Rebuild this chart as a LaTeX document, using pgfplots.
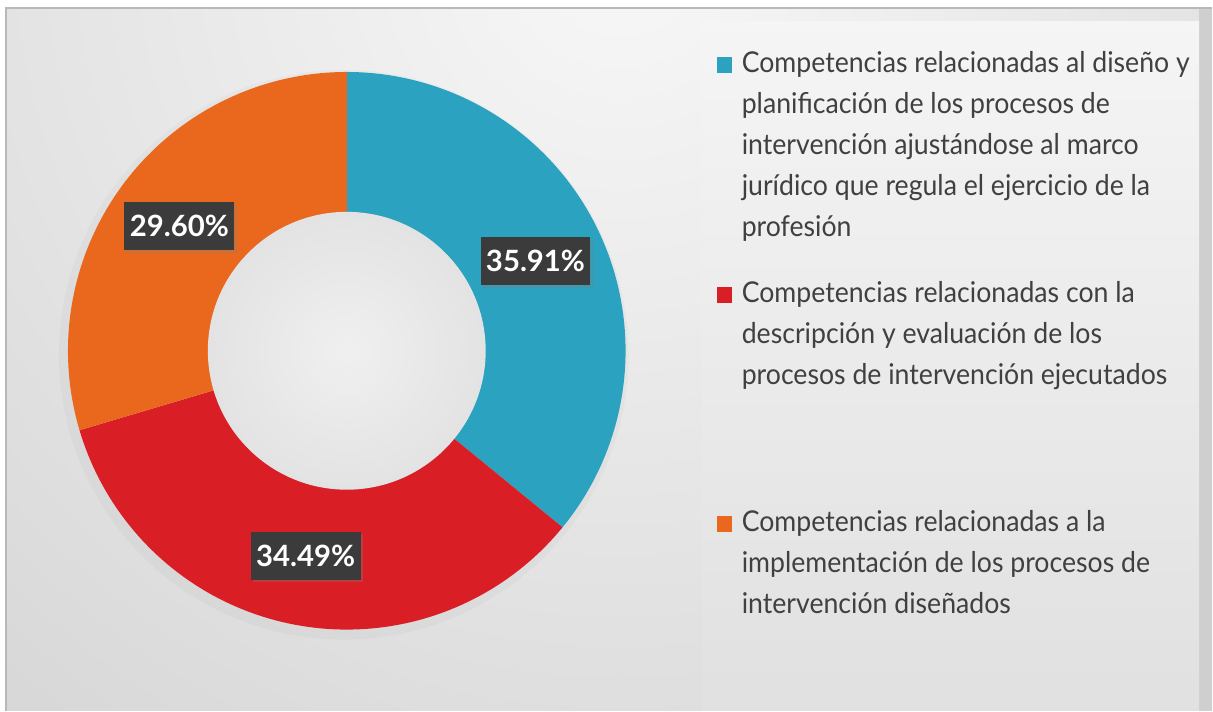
\documentclass[border=0pt]{standalone}
\usepackage{pgfplots}
\pgfplotsset{compat=1.18}
\usepackage{fontspec}
\setmainfont{Lato}
\newfontfamily\legfont{Lato}[FakeStretch=0.93]
\usetikzlibrary{shadows}

\definecolor{cBlue}{HTML}{2AA2C0}
\definecolor{cRed}{HTML}{DA1E26}
\definecolor{cOrange}{HTML}{EA681E}
\definecolor{txt}{HTML}{404040}

% shares in percent
\def\vA{35.91}
\def\vB{34.49}
\def\vC{29.60}

% donut geometry (pixel units, y downwards)
\def\cx{347}\def\cy{351}\def\rout{279}\def\rin{139}\def\rmid{209}

\pgfmathsetmacro\aA{90}
\pgfmathsetmacro\aB{\aA-3.6*\vA}
\pgfmathsetmacro\aC{\aB-3.6*\vB}
\pgfmathsetmacro\aD{\aC-3.6*\vC}
\pgfmathsetmacro\xA{\cx+\rmid*cos((\aA+\aB)/2)}
\pgfmathsetmacro\yA{\cy-\rmid*sin((\aA+\aB)/2)}
\pgfmathsetmacro\xB{\cx+\rmid*cos((\aB+\aC)/2)}
\pgfmathsetmacro\yB{\cy-\rmid*sin((\aB+\aC)/2)}
\pgfmathsetmacro\xC{\cx+\rmid*cos((\aC+\aD)/2)}
\pgfmathsetmacro\yC{\cy-\rmid*sin((\aC+\aD)/2)}

\tikzset{
  lbl/.style={fill=black!77, text=white, font=\fontsize{22}{22}\selectfont\bfseries,
    minimum width=82.5pt, minimum height=36pt, inner sep=0pt,
    drop shadow={shadow xshift=2pt, shadow yshift=-2pt, opacity=0.3}},
  leg/.style={anchor=base west, inner sep=0pt, text=txt, font=\legfont\fontsize{21.5}{21.5}\selectfont},
}

\begin{document}
\begin{tikzpicture}
\begin{axis}[
  scale only axis, width=909.75pt, height=533.25pt,
  xmin=0, xmax=1213, ymin=0, ymax=711, y dir=reverse,
  hide axis, clip=false,
]
% background
\fill[white] (axis cs:0,0) rectangle (axis cs:1213,711);
\begin{scope}
  \clip (axis cs:6,8) rectangle (axis cs:1213,711);
  \shade[inner color=black!3, outer color=black!21] (axis cs:620,-50) circle[radius=1400];
  \fill[black!19] (axis cs:1200,8) rectangle (axis cs:1213,711);
  \shade[top color=black!4, bottom color=black!12] (axis cs:703,22) rectangle (axis cs:1200,711);
\end{scope}
\draw[black!28, line width=1.2pt] (axis cs:6,711) -- (axis cs:6,8) -- (axis cs:1213,8);

% soft shadow of the ring
\fill[black, opacity=0.025] (axis cs:344,355) circle[radius=285];

% slices
\addplot[fill=cBlue, draw=none, domain=\aB:\aA, samples=90, variable=\t]
  ({\cx+\rout*cos(\t)}, {\cy-\rout*sin(\t)}) -- (axis cs:\cx,\cy) -- cycle;
\addplot[fill=cRed, draw=none, domain=\aC:\aB, samples=90, variable=\t]
  ({\cx+\rout*cos(\t)}, {\cy-\rout*sin(\t)}) -- (axis cs:\cx,\cy) -- cycle;
\addplot[fill=cOrange, draw=none, domain=\aD:\aC, samples=90, variable=\t]
  ({\cx+\rout*cos(\t)}, {\cy-\rout*sin(\t)}) -- (axis cs:\cx,\cy) -- cycle;

% hole
\shade[inner color=black!6, outer color=black!11] (axis cs:\cx,\cy) circle[radius=\rin];

% value labels
\node[lbl] at (axis cs:\xA,\yA) {\vA\%};
\node[lbl] at (axis cs:\xB,\yB) {\vB\%};
\node[lbl] at (axis cs:\xC,\yC) {\vC\%};

% legend
\fill[cBlue] (axis cs:717,57) rectangle (axis cs:732,73);
\node[leg] at (axis cs:742,73) {Competencias relacionadas al diseño y};
\node[leg] at (axis cs:742,114) {planificación de los procesos de};
\node[leg] at (axis cs:742,155) {intervención ajustándose al marco};
\node[leg] at (axis cs:742,196) {jurídico que regula el ejercicio de la};
\node[leg] at (axis cs:742,237) {profesión};

\fill[cRed] (axis cs:717,287) rectangle (axis cs:732,303);
\node[leg] at (axis cs:742,303) {Competencias relacionadas con la};
\node[leg] at (axis cs:742,344) {descripción y evaluación de los};
\node[leg] at (axis cs:742,385) {procesos de intervención ejecutados};

\fill[cOrange] (axis cs:717,516) rectangle (axis cs:732,532);
\node[leg] at (axis cs:742,532) {Competencias relacionadas a la};
\node[leg] at (axis cs:742,573) {implementación de los procesos de};
\node[leg] at (axis cs:742,614) {intervención diseñados};
\end{axis}
\end{tikzpicture}
\end{document}
